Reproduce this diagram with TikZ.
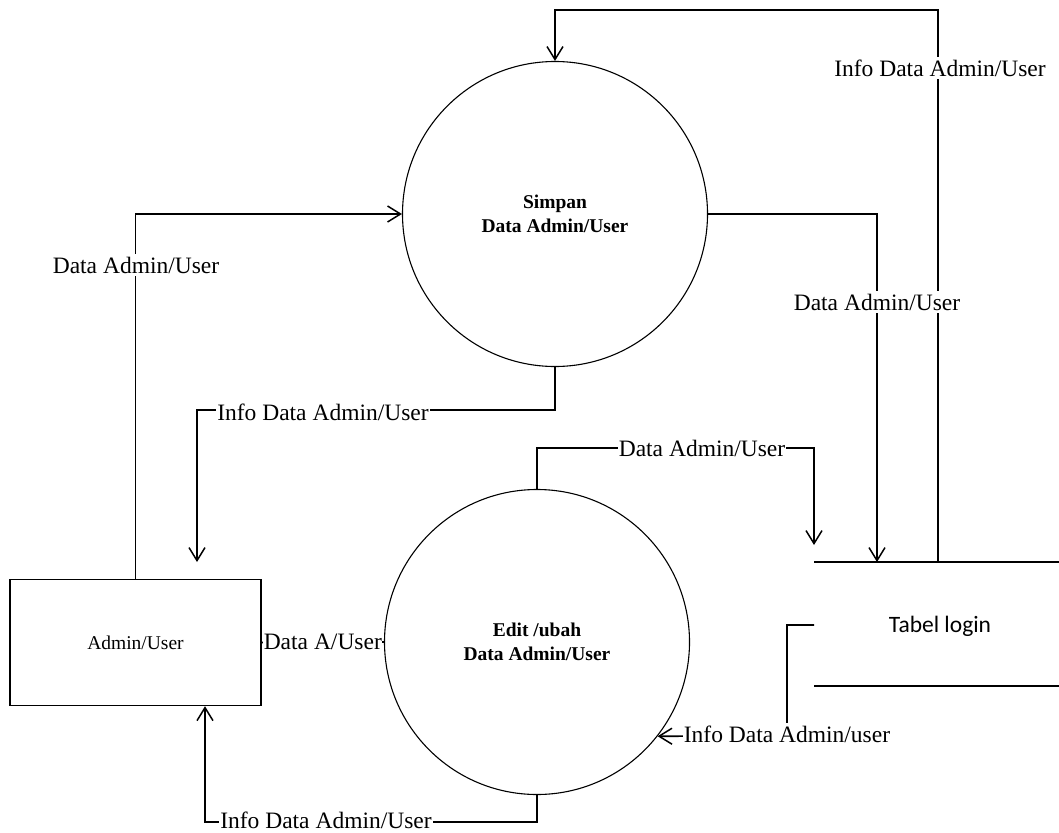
\documentclass[tikz,border=0pt]{standalone}
\usepackage{fontspec}
\setmainfont{Liberation Serif}
\newfontfamily\calibri{Carlito}
\usetikzlibrary{arrows.meta,calc}
\begin{document}
\begin{tikzpicture}[x=1pt,y=-1pt,
  flow/.style={line width=1.6pt,-{Straight Barb[length=13pt,width=16pt,line width=1.5pt]}},
  plain/.style={line width=1.6pt},
  proc/.style={circle,draw,line width=1.1pt,minimum size=305pt,inner sep=0pt,
    font=\fontsize{19.5}{24}\selectfont\bfseries,align=center},
  entity/.style={draw,line width=1.4pt,minimum width=251pt,minimum height=126pt,
    inner sep=0pt,font=\fontsize{19.5}{24}\selectfont},
  lbl/.style={fill=white,inner xsep=1pt,inner ysep=3pt,font=\fontsize{23.5}{28}\selectfont},
  store/.style={line width=1.5pt}]
\useasboundingbox (0,0) rectangle (1059,832);

% processes and external entity
\node[proc] (s1) at (555,214) {Simpan\\Data Admin/User};
\node[proc] (e2) at (537,642) {Edit /ubah\\Data Admin/User};
\node[entity] (au) at (135.5,642.5) {Admin/User};

% data store: Tabel login
\coordinate (dsTL) at (814,562);
\coordinate (dsTR) at (1059,562);
\coordinate (dsBL) at (814,686);
\coordinate (dsBR) at (1059,686);
\draw[store] (dsTL) -- (dsTR);
\draw[store] (dsBL) -- (dsBR);
\node[font=\calibri\fontsize{23.5}{28}\selectfont] (tl) at (940,626) {Tabel login};

% bend points and free ends
\coordinate (b1) at (197,410);
\coordinate (t1) at (197,562);
\coordinate (r1) at (938,562);
\coordinate (r2) at (938,10);
\coordinate (t2) at (877,562);
\coordinate (b5) at (814,448);
\coordinate (t5) at (814,545);
\coordinate (b7) at (205,822);
\coordinate (s8) at (814,625);
\coordinate (b8) at (787,736);

% connectors
\draw[flow] (au.north) |- (s1.west);
\draw[flow] (s1.south) |- (b1) -- (t1);
\draw[flow] (r1) -- (r2) -| (s1.north);
\draw[flow] (s1.east) -| (t2);
\draw[flow] (e2.north) |- (b5) -- (t5);
\draw[plain] (au.east) -- (e2.west);
\draw[flow] (e2.south) |- (b7) -- (b7 |- au.south);
\draw[flow] (s8) -| (b8) -- (e2.-38);

% connector labels
\node[lbl] (l1) at (136,265) {Data Admin/User};
\node[lbl] (l2) at (323,412) {Info Data Admin/User};
\node[lbl] (l3) at (940,68) {Info Data Admin/User};
\node[lbl] (l4) at (877,302) {Data Admin/User};
\node[lbl] (l5) at (702,448) {Data Admin/User};
\node[lbl,inner xsep=0.5pt] (l6) at ($(au.east)!0.5!(e2.west)$) {Data A/User};
\node[lbl,inner ysep=1pt] (l7) at (326,820) {Info Data Admin/User};
\node[lbl] (l8) at (787,734) {Info Data Admin/user};
\end{tikzpicture}
\end{document}
